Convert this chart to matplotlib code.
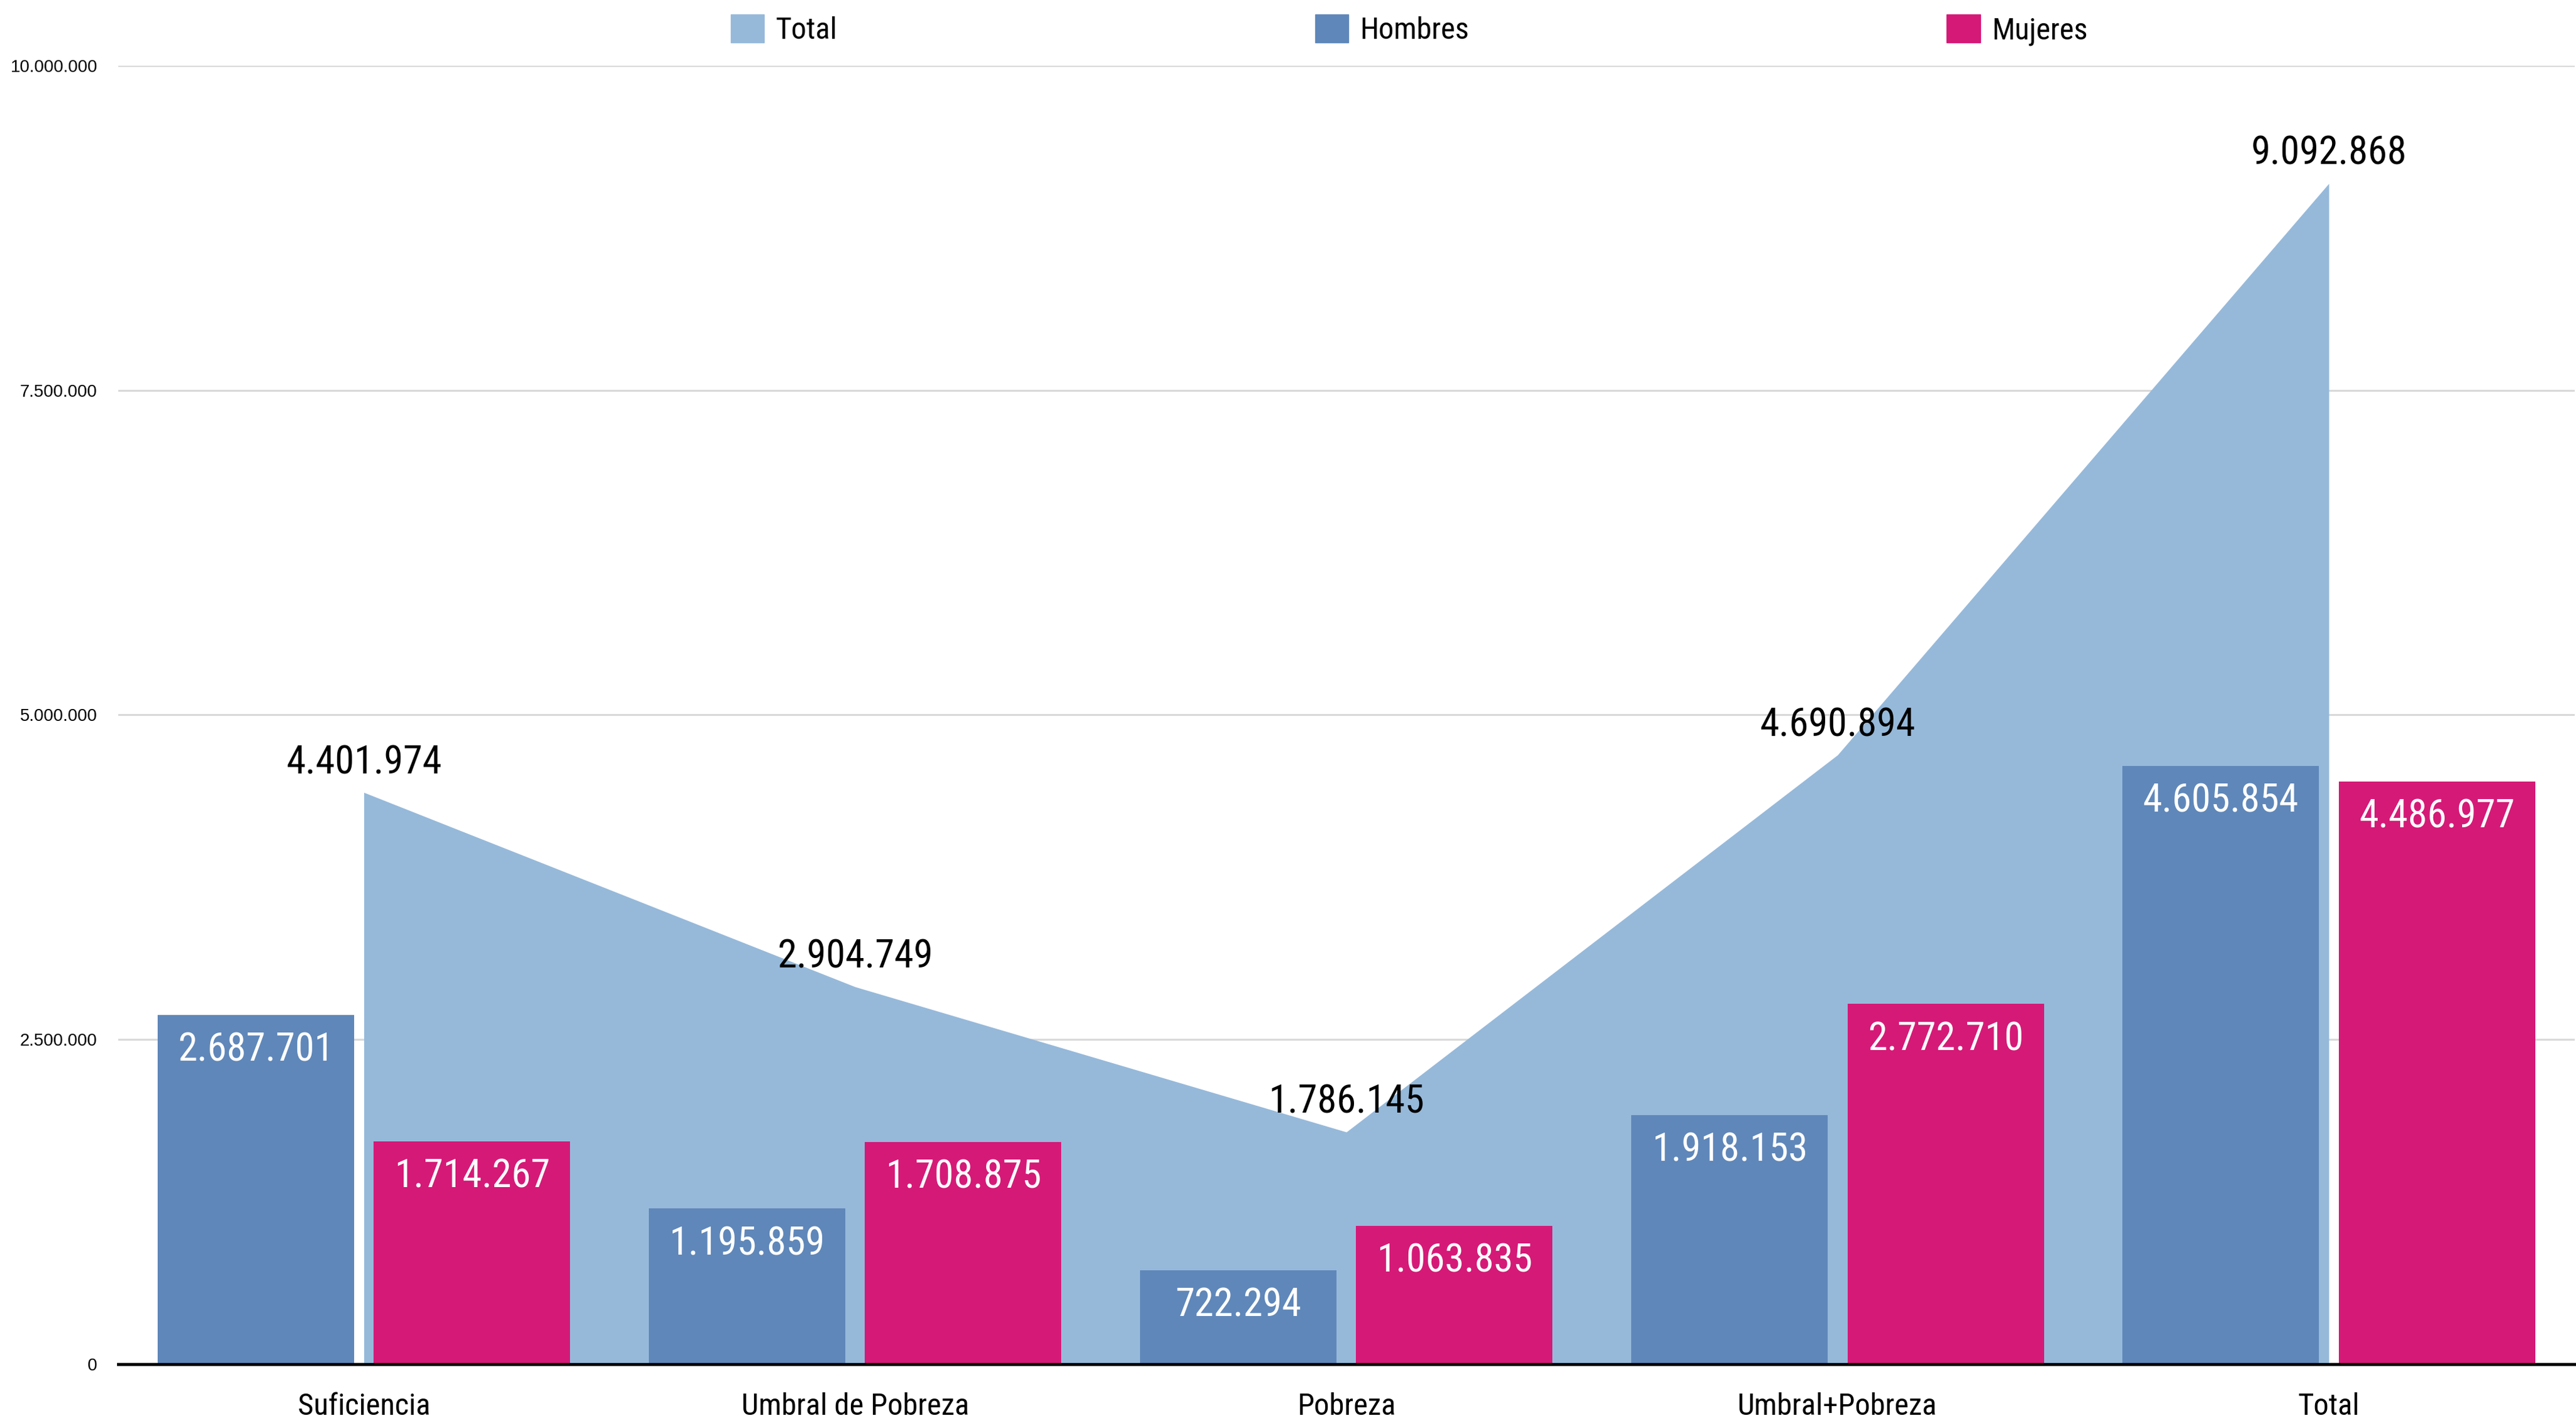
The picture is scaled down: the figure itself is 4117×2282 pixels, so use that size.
import matplotlib
matplotlib.use('Agg')
import matplotlib.pyplot as plt
from matplotlib.patches import Patch

categorias = ['Suficiencia', 'Umbral de Pobreza', 'Pobreza', 'Umbral+Pobreza', 'Total']
total = [4401974, 2904749, 1786145, 4690894, 9092868]
hombres = [2687701, 1195859, 722294, 1918153, 4605854]
mujeres = [1714267, 1708875, 1063835, 2772710, 4486977]
yticks = [0, 2500000, 5000000, 7500000, 10000000]

c_total = '#96b9da'
c_hombres = '#5f87b9'
c_mujeres = '#d51977'


def miles(v):
    return f'{v:,}'.replace(',', '.')


fuente = ['Roboto Condensed', 'Archivo Narrow', 'DejaVu Sans']

fig = plt.figure(figsize=(41.17, 22.82), dpi=100)
ax = fig.add_axes([0.0459, 0.0449, 0.9535, 0.9091])

x = list(range(len(categorias)))
ax.fill_between(x, total, 0, color=c_total, lw=0, zorder=1)
ax.bar([i - 0.22 for i in x], hombres, width=0.4, color=c_hombres, zorder=2)
ax.bar([i + 0.22 for i in x], mujeres, width=0.4, color=c_mujeres, zorder=2)

# etiquetas del area total
for i, v in enumerate(total):
    ax.annotate(miles(v), (i, v), xytext=(0, 34), textcoords='offset points',
                ha='center', va='center', fontsize=45, family=fuente, color='black', zorder=4)

# etiquetas dentro de las barras
for i, v in enumerate(hombres):
    ax.annotate(miles(v), (i - 0.22, v), xytext=(0, -41), textcoords='offset points',
                ha='center', va='center', fontsize=45, family=fuente, color='white', zorder=4)
for i, v in enumerate(mujeres):
    ax.annotate(miles(v), (i + 0.22, v), xytext=(0, -41), textcoords='offset points',
                ha='center', va='center', fontsize=45, family=fuente, color='white', zorder=4)

ax.set_xlim(-0.5, 4.5)
ax.set_ylim(0, 10000000)
ax.set_xticks(x)
ax.set_xticklabels(categorias, family=fuente, fontsize=35)
ax.set_yticks(yticks)
ax.set_yticklabels([miles(t) for t in yticks], family='Liberation Sans', fontsize=20)
ax.tick_params(axis='both', length=0)
ax.tick_params(axis='x', pad=33)
ax.tick_params(axis='y', pad=24)
ax.set_axisbelow(True)
ax.grid(axis='y', color='#d9d9d9', lw=2.2)
for lado in ['top', 'right', 'left']:
    ax.spines[lado].set_visible(False)
ax.spines['bottom'].set_linewidth(3.5)
ax.spines['bottom'].set_zorder(5)

handles = [Patch(color=c_total, label='Total'),
           Patch(color=c_hombres, label='Hombres'),
           Patch(color=c_mujeres, label='Mujeres')]
fig.legend(handles=handles, loc='center left', bbox_to_anchor=(0.273, 0.979), ncol=3,
           frameon=False, prop={'family': fuente, 'size': 35}, handlelength=1.1,
           handleheight=1.05, handletextpad=0.38, columnspacing=15.7)

fig.savefig('out.png', dpi=100)
